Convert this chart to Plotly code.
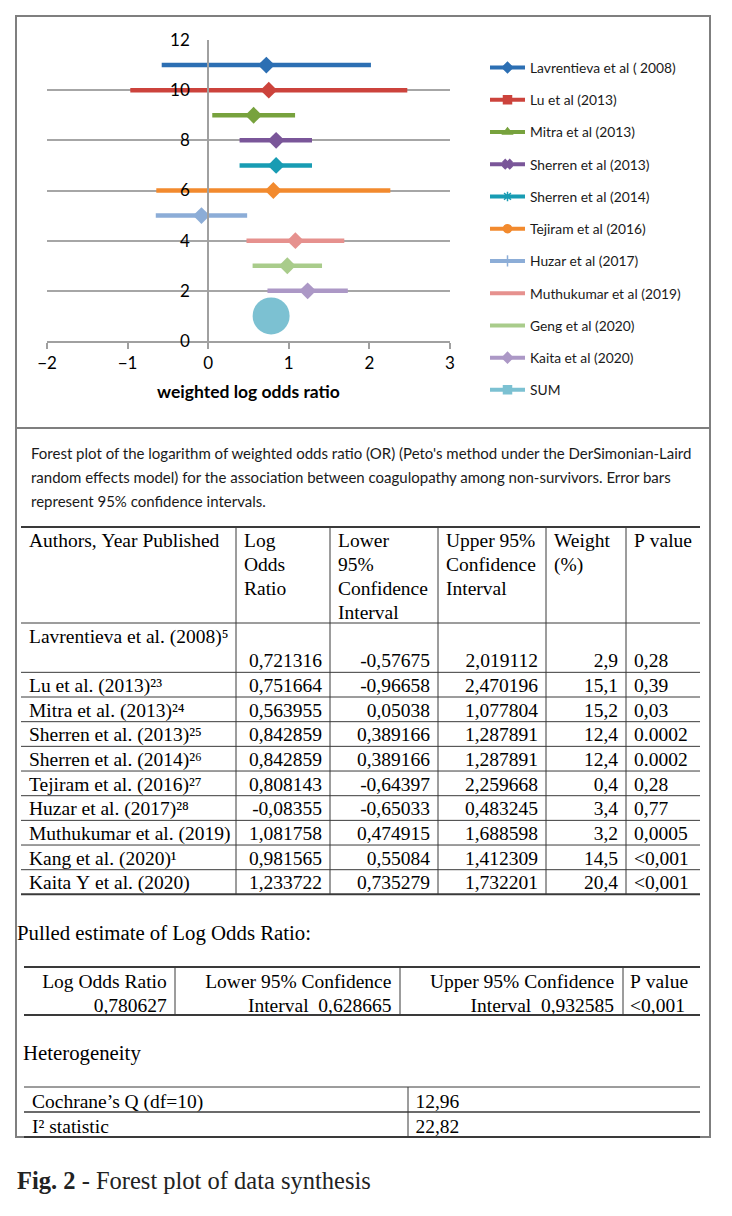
import plotly.graph_objects as go

W, H = 732, 1216

# ---------------- data ----------------
legend_names = ["Lavrentieva et al ( 2008)", "Lu et al (2013)", "Mitra et al (2013)",
                "Sherren et al (2013)", "Sherren et al (2014)", "Tejiram et al (2016)",
                "Huzar et al (2017)", "Muthukumar et al (2019)", "Geng et al (2020)",
                "Kaita et al (2020)"]
table_authors = ["Lavrentieva et al. (2008)⁵", "Lu et al. (2013)²³", "Mitra et al. (2013)²⁴",
                 "Sherren et al. (2013)²⁵", "Sherren et al. (2014)²⁶", "Tejiram et al. (2016)²⁷",
                 "Huzar et al. (2017)²⁸", "Muthukumar et al. (2019)", "Kang et al. (2020)¹",
                 "Kaita Y et al. (2020)"]
log_or = [0.721316, 0.751664, 0.563955, 0.842859, 0.842859, 0.808143, -0.08355, 1.081758, 0.981565, 1.233722]
lower95 = [-0.57675, -0.96658, 0.05038, 0.389166, 0.389166, -0.64397, -0.65033, 0.474915, 0.55084, 0.735279]
upper95 = [2.019112, 2.470196, 1.077804, 1.287891, 1.287891, 2.259668, 0.483245, 1.688598, 1.412309, 1.732201]
weights = [2.9, 15.1, 15.2, 12.4, 12.4, 0.4, 3.4, 3.2, 14.5, 20.4]
p_values = ["0,28", "0,39", "0,03", "0.0002", "0.0002", "0,28", "0,77", "0,0005", "<0,001", "<0,001"]
row_positions = [11, 10, 9, 8, 7, 6, 5, 4, 3, 2]

sum_name = "SUM"
pooled_log_or = 0.780627
pooled_lower = 0.628665
pooled_upper = 0.932585
pooled_p = "<0,001"
sum_position = 1

hetero_labels = ["Cochrane’s Q (df=10)", "I² statistic"]
hetero_values = [12.96, 22.82]

x_ticks = [-2, -1, 0, 1, 2, 3]
y_ticks = [0, 2, 4, 6, 8, 10, 12]

header_lines = [["Authors, Year Published", "", "", ""],
                ["Log", "Odds", "Ratio", ""],
                ["Lower", "95%", "Confidence", "Interval"],
                ["Upper 95%", "Confidence", "Interval", ""],
                ["Weight", "(%)", "", ""],
                ["P value", "", "", ""]]
pooled_header = ["Log Odds Ratio", "Lower 95% Confidence", "Upper 95% Confidence", "P value"]

caption_lines = ["Forest plot of the logarithm of weighted odds ratio (OR) (Peto's method under the DerSimonian-Laird",
                 "random effects model) for the association between coagulopathy among non-survivors. Error bars",
                 "represent 95% confidence intervals."]

# ---------------- styles ----------------
colors = ["#2C6FB3", "#CC433C", "#77A23D", "#7A5699", "#189CB3", "#F28A2E",
          "#8CADD7", "#E6918E", "#A9CC8B", "#AC98C6"]
sum_color = "#7CC1D2"
legend_symbols = ["diamond", "square", "triangle-up", "x", "asterisk-open", "circle",
                  "line-ns-open", None, None, "diamond"]
sans = "Lato"
serif = "Liberation Serif"
NB = "\u00a0"


def fmt(v):
    return str(v).replace(".", ",")


def nb(s):
    return s.replace(" ", NB)


def split_lt(s):
    # a leading "<" is rendered through the column prefix (keeps rows from growing)
    return ("<", s[1:]) if s.startswith("<") else ("", s)


def px(x):
    return x / W


def py(y):
    return 1 - y / H


fig = go.Figure()

# CI lines and point estimates
for name, est, lo, hi, yv, col in zip(legend_names, log_or, lower95, upper95, row_positions, colors):
    fig.add_trace(go.Scatter(x=[lo, hi], y=[yv, yv], mode="lines",
                             line=dict(color=col, width=4.5), showlegend=False,
                             hoverinfo="skip", xaxis="x", yaxis="y"))
    fig.add_trace(go.Scatter(x=[est], y=[yv], mode="markers",
                             marker=dict(symbol="diamond", size=13, color=col),
                             showlegend=False, name=name, xaxis="x", yaxis="y"))

fig.add_trace(go.Scatter(x=[pooled_log_or], y=[sum_position], mode="markers",
                         marker=dict(symbol="circle", size=37, color=sum_color),
                         showlegend=False, name=sum_name, xaxis="x", yaxis="y"))

# legend entries
for i, (name, col, sym) in enumerate(zip(legend_names + [sum_name], colors + [sum_color],
                                         legend_symbols + ["square"])):
    if sym is None:
        fig.add_trace(go.Scatter(x=[None], y=[None], mode="lines", name=name,
                                 line=dict(color=col, width=4), legendgroup=str(i),
                                 xaxis="x", yaxis="y"))
    else:
        fig.add_trace(go.Scatter(x=[None], y=[None], mode="lines+markers", name=name,
                                 line=dict(color=col, width=4),
                                 marker=dict(symbol=sym, size=8, color=col,
                                             line=dict(color=col, width=1.5)),
                                 legendgroup=str(i), xaxis="x", yaxis="y"))

# ---------------- tables ----------------
no_line = dict(color="rgba(0,0,0,0)", width=0)
clear = dict(color="rgba(0,0,0,0)")
tfont = dict(family=serif, size=19.5, color="black")

T_TOP = 527
HEAD_H = 24
CELL_H = 24.67
T_OFF = 3
main_cols = [21, 236, 330, 438, 546, 626, 700]
widths = [main_cols[i + 1] - main_cols[i] for i in range(6)]
aligns = ["left", "right", "right", "right", "right", "left"]


def row_cells(i):
    pre, pv = split_lt(p_values[i])
    return [nb(table_authors[i]), fmt(log_or[i]), fmt(lower95[i]), fmt(upper95[i]),
            fmt(weights[i]), pv], pre


# rows without "<" p-values go in the first block, the rest in a second block
n_study = len(table_authors)
plain_idx = [i for i in range(n_study) if not p_values[i].startswith("<")]
lt_idx = [i for i in range(n_study) if p_values[i].startswith("<")]

block_a = []
for k, i in enumerate(plain_idx):
    cells, _ = row_cells(i)
    if k == 0:
        # first study spans two lines: name on top, values below
        block_a.append([cells[0]] + [""] * 5)
        block_a.append([""] + cells[1:])
    else:
        block_a.append(cells)
cols_a = [list(c) for c in zip(*block_a)]

fig.add_trace(go.Table(
    domain=dict(x=[px(main_cols[0]), px(main_cols[-1])], y=[py(930), py(T_TOP - T_OFF)]),
    columnwidth=widths,
    header=dict(values=[[nb(s) for s in c] for c in header_lines], height=HEAD_H, align="left",
                font=tfont, fill=clear, line=no_line),
    cells=dict(values=cols_a, height=CELL_H, align=aligns, font=tfont, fill=clear, line=no_line),
))

B_TOP = T_TOP + 4 * HEAD_H + len(block_a) * CELL_H
block_b = [row_cells(i)[0] for i in lt_idx]
cols_b = [list(c) for c in zip(*block_b)]
prefix_b = ["", "", "", "", "", "<"]
fig.add_trace(go.Table(
    domain=dict(x=[px(main_cols[0]), px(main_cols[-1])], y=[py(960), py(B_TOP - T_OFF)]),
    columnwidth=widths,
    header=dict(values=[c[0] for c in cols_b], height=CELL_H, align=aligns, font=tfont,
                prefix=prefix_b, fill=clear, line=no_line),
    cells=dict(values=[c[1:] for c in cols_b], height=CELL_H, align=aligns, font=tfont,
               prefix=prefix_b, fill=clear, line=no_line),
))

P_TOP = 967
P_ROW = 24
P_OFF = 2
pooled_cols = [24, 175, 400, 623, 700]
pp_pre, pp_val = split_lt(pooled_p)
fig.add_trace(go.Table(
    domain=dict(x=[px(pooled_cols[0]), px(pooled_cols[-1])], y=[py(1030), py(P_TOP - P_OFF)]),
    columnwidth=[pooled_cols[i + 1] - pooled_cols[i] for i in range(4)],
    header=dict(values=[nb(s) for s in pooled_header], height=P_ROW,
                align=["right", "right", "right", "left"],
                font=tfont, fill=clear, line=no_line),
    cells=dict(values=[[fmt(pooled_log_or)], [nb("Interval  ") + fmt(pooled_lower)],
                       [nb("Interval  ") + fmt(pooled_upper)], [pp_val]],
               prefix=["", "", "", pp_pre],
               height=P_ROW, align=["right", "right", "right", "left"], font=tfont,
               fill=clear, line=no_line),
))

Q_TOP = 1087
Q_ROW = 25
hetero_cols = [24, 408, 700]
fig.add_trace(go.Table(
    domain=dict(x=[px(hetero_cols[0]), px(hetero_cols[-1])], y=[py(1150), py(Q_TOP - P_OFF)]),
    columnwidth=[hetero_cols[1] - hetero_cols[0], hetero_cols[2] - hetero_cols[1]],
    header=dict(values=[nb(hetero_labels[0]), fmt(hetero_values[0])], height=Q_ROW, align="left",
                font=tfont, fill=clear, line=no_line),
    cells=dict(values=[[nb(hetero_labels[1])], [fmt(hetero_values[1])]], height=Q_ROW,
               align="left", font=tfont, fill=clear, line=no_line),
))

# ---------------- rules / frame ----------------
shapes = []
frame_col = "#7F7F7F"
rule_col = "#3A3A3A"


def hline(y, x0, x1, w=1, c=rule_col):
    shapes.append(dict(type="line", xref="paper", yref="paper", x0=px(x0), x1=px(x1),
                       y0=py(y), y1=py(y), line=dict(color=c, width=w)))


def vline(x, y0, y1, w=1, c=rule_col):
    shapes.append(dict(type="line", xref="paper", yref="paper", x0=px(x), x1=px(x),
                       y0=py(y0), y1=py(y1), line=dict(color=c, width=w)))


shapes.append(dict(type="rect", xref="paper", yref="paper", x0=px(16), x1=px(710),
                   y0=py(1137), y1=py(16), line=dict(color=frame_col, width=2)))
hline(428, 16, 710, 2, frame_col)

# main table rules
bounds = [T_TOP, T_TOP + 4 * HEAD_H]
y_cur = T_TOP + 4 * HEAD_H + 2 * CELL_H
bounds.append(y_cur)
for r in range(n_study - 1):
    y_cur += CELL_H
    bounds.append(y_cur)
for i, b in enumerate(bounds):
    hline(b, main_cols[0], main_cols[-1], 2 if i in (0, len(bounds) - 1) else 1)
for xc in main_cols[1:-1]:
    vline(xc, bounds[0], bounds[-1])

# pooled table rules
hline(P_TOP, pooled_cols[0], pooled_cols[-1], 2)
hline(P_TOP + 2 * P_ROW, pooled_cols[0], pooled_cols[-1], 2)
for xc in pooled_cols[1:-1]:
    vline(xc, P_TOP, P_TOP + 2 * P_ROW)

# heterogeneity table rules
hline(Q_TOP, hetero_cols[0], hetero_cols[-1], 1)
hline(Q_TOP + Q_ROW, hetero_cols[0], hetero_cols[-1], 1.5)
hline(Q_TOP + 2 * Q_ROW, hetero_cols[0], hetero_cols[-1], 2)
vline(hetero_cols[1], Q_TOP, Q_TOP + 2 * Q_ROW)

# ---------------- annotations ----------------
annotations = []
for i, line in enumerate(caption_lines):
    annotations.append(dict(text=line, x=px(29), y=py(453 + 24 * i), xref="paper", yref="paper",
                            xanchor="left", yanchor="middle", showarrow=False,
                            font=dict(family=sans, size=15, color="#1a1a1a")))
annotations.append(dict(text="Pulled estimate of Log Odds Ratio:", x=px(15), y=py(933),
                        xref="paper", yref="paper", xanchor="left", yanchor="middle",
                        showarrow=False, font=dict(family=serif, size=20.8, color="black")))
annotations.append(dict(text="Heterogeneity", x=px(21), y=py(1053),
                        xref="paper", yref="paper", xanchor="left", yanchor="middle",
                        showarrow=False, font=dict(family=serif, size=20.8, color="black")))
annotations.append(dict(text="<b>Fig. 2</b> - Forest plot of data synthesis", x=px(15), y=py(1180),
                        xref="paper", yref="paper", xanchor="left", yanchor="middle",
                        showarrow=False, font=dict(family=serif, size=24.5, color="#222222")))

fig.update_layout(
    width=W, height=H, autosize=False,
    margin=dict(l=0, r=0, t=0, b=0, pad=0, autoexpand=False),
    paper_bgcolor="white", plot_bgcolor="white",
    showlegend=True,
    legend=dict(x=px(485), y=py(52), xanchor="left", yanchor="top",
                font=dict(family=sans, size=13.8, color="#1a1a1a"),
                itemwidth=35,
                tracegroupgap=11.3, bgcolor="rgba(0,0,0,0)"),
    xaxis=dict(domain=[px(47), px(450)], range=[-2, 3], tickvals=x_ticks,
               showgrid=False, zeroline=False, showline=True, linecolor="#A0A0A0", linewidth=1.5,
               ticks="outside", ticklen=6, tickwidth=1.5, tickcolor="#A0A0A0",
               tickfont=dict(family=sans, size=17, color="black"),
               title=dict(text="<b>weighted log odds ratio</b>", standoff=14,
                          font=dict(family=sans, size=17.5, color="black")),
               anchor="y", fixedrange=True),
    yaxis=dict(domain=[py(341), py(40)], range=[0, 12], tickvals=y_ticks,
               showgrid=True, gridcolor="#A6A6A6", gridwidth=1.5, zeroline=False,
               showline=True, linecolor="#A0A0A0", linewidth=1.5,
               ticks="", ticklabelstandoff=14,
               tickfont=dict(family=sans, size=17, color="black"),
               anchor="free", position=px(208), fixedrange=True),
    shapes=shapes,
    annotations=annotations,
)

fig.write_html("out.html", config={"displayModeBar": False},
               post_script="document.body.style.margin='0px';")
